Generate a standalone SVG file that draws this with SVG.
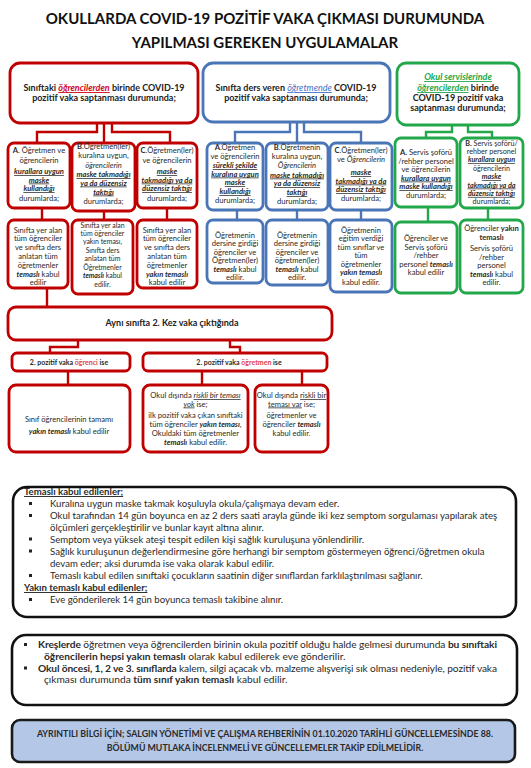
<svg xmlns="http://www.w3.org/2000/svg" width="531" height="768" viewBox="0 0 531 768">
<style>
text{font-family:Lato,"Liberation Sans",sans-serif;fill:#2a2a2a}
.title{font-size:15px;font-weight:bold;fill:#111}
.h{font-size:9px;font-weight:bold;fill:#222}
.s{font-size:7.6px}
.m{text-anchor:middle}
.b{font-weight:bold}
.i{font-style:italic}
.biu{font-weight:bold;font-style:italic;text-decoration:underline}
.bi{font-weight:bold;font-style:italic}
.rb{fill:#fff;stroke:#c00000;stroke-width:2.8}
.bb{fill:#fff;stroke:#4a76b8;stroke-width:2.8}
.gb{fill:#fff;stroke:#22a84a;stroke-width:2.8}
.kb{fill:#fff;stroke:#111;stroke-width:2.6}
.cr{fill:none;stroke:#c00000;stroke-width:2.4}
.cb{fill:none;stroke:#4a76b8;stroke-width:2.4}
.cg{fill:none;stroke:#22a84a;stroke-width:2.4}
.t9{font-size:9.6px}
.t10{font-size:10.2px}
.sm{font-size:6.9px}
.sg{font-size:7.2px}
</style>
<rect width="531" height="768" fill="#fff"/>
<g id="title">
<text class="title m" x="265" y="24">OKULLARDA COVID-19 POZİTİF VAKA ÇIKMASI DURUMUNDA</text>
<text class="title m" x="265" y="48">YAPILMASI GEREKEN UYGULAMALAR</text>
</g>
<g id="connectors">
<path class="cr" d="M97,123V132H37V143M104,123V143M112,123V132H170V143"/>
<path class="cr" d="M42,208V220M104,211V220M167,208V220M47,288V307"/>
<path class="cb" d="M290,122V132H235V143M297,122V143M304,122V132H361V143"/>
<path class="cb" d="M237,210V220M297,210V220M361,210V220"/>
<path class="cg" d="M452,125V132H426V138M468,125V132H492V138"/>
<path class="cg" d="M428,207V222M488,208V220"/>
<path class="cr" d="M78,340V347H50V353M230,340V347H240V353"/>
<path class="cr" d="M68,371V385M202,371V385M302,371V385"/>
</g>
<g id="h-red">
<rect class="rb" x="10" y="63" width="188" height="60" rx="10"/>
<text class="h m" x="104" y="91">Sınıftaki <tspan class="i" fill="#d0021b" text-decoration="underline">öğrencilerden</tspan> birinde COVID-19</text>
<text class="h m" x="104" y="101">pozitif vaka saptanması durumunda;</text>
</g>
<g id="h-blue">
<rect class="bb" x="203" y="63" width="187" height="59" rx="10"/>
<text class="h m" x="296" y="91">Sınıfta ders veren <tspan class="i" fill="#4472c4" font-weight="normal" text-decoration="underline">öğretmende</tspan> COVID-19</text>
<text class="h m" x="296" y="101">pozitif vaka saptanması durumunda;</text>
</g>
<g id="h-green">
<rect class="gb" x="397" y="63" width="122" height="62" rx="9"/>
<text class="h m" x="458" y="80"><tspan class="i" fill="#22a84a" text-decoration="underline">Okul servislerinde</tspan></text>
<text class="h m" x="458" y="91"><tspan class="i" fill="#22a84a" text-decoration="underline">öğrencilerden</tspan> birinde</text>
<text class="h m" x="458" y="101">COVID-19 pozitif vaka</text>
<text class="h m" x="458" y="111">saptanması durumunda;</text>
</g>
<g id="r-a">
<rect class="rb" x="8" y="143" width="62" height="65" rx="6"/>
<text class="s m" x="39" y="153"><tspan class="b">A</tspan>. Öğretmen ve</text>
<text class="s m" x="39" y="162.5">öğrencilerin</text>
<text class="s m biu" x="39" y="174">kurallara uygun</text>
<text class="s m biu" x="39" y="182.5">maske</text>
<text class="s m biu" x="39" y="191">kullandığı</text>
<text class="s m" x="39" y="200.5">durumlarda;</text>
</g>
<g id="r-b">
<rect class="rb" x="72" y="143" width="63" height="68" rx="6"/>
<text class="s m" x="103.5" y="148.5"><tspan class="b">B</tspan>.Öğretmen(ler)</text>
<text class="s m" x="103.5" y="157.5">kuralına uygun,</text>
<text class="s m i" x="103.5" y="167.5">öğrencilerin</text>
<text class="s m biu" x="103.5" y="177">maske takmadığı</text>
<text class="s m biu" x="103.5" y="185.5">ya da  düzensiz</text>
<text class="s m biu" x="103.5" y="194.5">taktığı</text>
<text class="s m" x="103.5" y="204">durumlarda;</text>
</g>
<g id="r-c">
<rect class="rb" x="137" y="143" width="60" height="65" rx="6"/>
<text class="s m" x="167" y="153"><tspan class="b">C</tspan>.Öğretmen(ler)</text>
<text class="s m" x="167" y="162.5">ve öğrencilerin</text>
<text class="s m biu" x="167" y="174">maske</text>
<text class="s m biu" x="167" y="182.5">takmadığı ya da</text>
<text class="s m biu" x="167" y="191">düzensiz taktığı</text>
<text class="s m" x="167" y="200.5">durumlarda;</text>
</g>
<g id="r-a2">
<rect class="rb" x="8" y="220" width="60" height="68" rx="6"/>
<text class="s m" x="38" y="232.5">Sınıfta yer alan</text>
<text class="s m" x="38" y="241">tüm öğrenciler</text>
<text class="s m" x="38" y="250">ve sınıfta ders</text>
<text class="s m" x="38" y="259">anlatan tüm</text>
<text class="s m" x="38" y="268">öğretmenler</text>
<text class="s m" x="38" y="276.5"><tspan class="bi">temaslı</tspan> kabul</text>
<text class="s m" x="38" y="285">edilir</text>
</g>
<g id="r-b2">
<rect class="rb" x="72" y="220" width="61" height="74" rx="6"/>
<text class="sm m" x="102.5" y="227.5">Sınıfta yer alan</text>
<text class="sm m" x="102.5" y="235.8">tüm öğrenciler</text>
<text class="sm m" x="102.5" y="244.1">yakın teması,</text>
<text class="sm m" x="102.5" y="253">Sınıfta ders</text>
<text class="sm m" x="102.5" y="261.3">anlatan tüm</text>
<text class="sm m" x="102.5" y="269.6">Öğretmenler</text>
<text class="sm m" x="102.5" y="277.9"><tspan class="bi">temaslı</tspan> kabul</text>
<text class="sm m" x="102.5" y="286.5">edilir.</text>
</g>
<g id="r-c2">
<rect class="rb" x="137" y="220" width="60" height="68" rx="6"/>
<text class="s m" x="167" y="232.5">Sınıfta yer alan</text>
<text class="s m" x="167" y="241">tüm öğrenciler</text>
<text class="s m" x="167" y="250">ve sınıfta ders</text>
<text class="s m" x="167" y="259">anlatan tüm</text>
<text class="s m" x="167" y="268">öğretmenler</text>
<text class="s m bi" x="167" y="276.5">yakın temaslı</text>
<text class="s m" x="167" y="285">kabul edilir</text>
</g>
<g id="b-a">
<rect class="bb" x="207" y="143" width="56" height="67" rx="6"/>
<text class="s m" x="235" y="150"><tspan class="b">A</tspan>.Öğretmen</text>
<text class="s m" x="235" y="159">ve öğrencilerin</text>
<text class="s m biu" x="235" y="168">sürekli şekilde</text>
<text class="s m biu" x="235" y="176.5">kuralına uygun</text>
<text class="s m biu" x="235" y="185">maske</text>
<text class="s m biu" x="235" y="194">kullandığı</text>
<text class="s m" x="235" y="203">durumlarda;</text>
</g>
<g id="b-b">
<rect class="bb" x="266" y="143" width="62" height="67" rx="6"/>
<text class="s m" x="297" y="150"><tspan class="b">B</tspan>.Öğretmenin</text>
<text class="s m" x="297" y="158.5">kuralına uygun,</text>
<text class="s m i" x="297" y="168">Öğrencilerin</text>
<text class="s m biu" x="297" y="177.5">maske takmadığı</text>
<text class="s m biu" x="297" y="186">ya da düzensiz</text>
<text class="s m biu" x="297" y="195">taktığı</text>
<text class="s m" x="297" y="204">durumlarda;</text>
</g>
<g id="b-c">
<rect class="bb" x="330" y="143" width="62" height="67" rx="6"/>
<text class="s m" x="361" y="153"><tspan class="b">C</tspan>.Öğretmen(ler)</text>
<text class="s m" x="361" y="162">ve <tspan class="i">Öğrencilerin</tspan></text>
<text class="s m biu" x="361" y="175">maske</text>
<text class="s m biu" x="361" y="183.5">takmadığı ya da</text>
<text class="s m biu" x="361" y="192">düzensiz taktığı</text>
<text class="s m" x="361" y="201">durumlarda;</text>
</g>
<g id="b-a2">
<rect class="bb" x="207" y="220" width="56" height="63" rx="6"/>
<text class="s m" x="235" y="237.5">Öğretmenin</text>
<text class="s m" x="235" y="246">dersine girdiği</text>
<text class="s m" x="235" y="254.5">öğrenciler ve</text>
<text class="s m" x="235" y="263">Öğretmen(ler)</text>
<text class="s m" x="235" y="271.5"><tspan class="bi">temaslı</tspan> kabul</text>
<text class="s m" x="235" y="280">edilir.</text>
</g>
<g id="b-b2">
<rect class="bb" x="266" y="220" width="62" height="65" rx="6"/>
<text class="s m" x="297" y="237.5">Öğretmenin</text>
<text class="s m" x="297" y="246">dersine girdiği</text>
<text class="s m" x="297" y="254.5">öğrenciler ve</text>
<text class="s m" x="297" y="263">öğretmen(ler)</text>
<text class="s m" x="297" y="271.5"><tspan class="bi">temaslı</tspan> kabul</text>
<text class="s m" x="297" y="280">edilir.</text>
</g>
<g id="b-c2">
<rect class="bb" x="330" y="220" width="62" height="72" rx="6"/>
<text class="s m" x="361" y="232.5">Öğretmenin</text>
<text class="s m" x="361" y="241">eğitim verdiği</text>
<text class="s m" x="361" y="249.5">tüm sınıflar ve</text>
<text class="s m" x="361" y="258">tüm</text>
<text class="s m" x="361" y="266.5">öğretmenler</text>
<text class="s m bi" x="361" y="275">yakın temaslı</text>
<text class="s m" x="361" y="285">kabul edilir.</text>
</g>
<g id="g-a">
<rect class="gb" x="395" y="138" width="62" height="69" rx="6"/>
<text class="s m" x="426" y="155"><tspan class="b">A.</tspan> Servis şoförü</text>
<text class="s m" x="426" y="163.5">/rehber personel</text>
<text class="s m" x="426" y="172">ve öğrencilerin</text>
<text class="s m biu" x="426" y="180.5">kurallara uygun</text>
<text class="s m biu" x="426" y="189">maske kullandığı</text>
<text class="s m" x="426" y="198">durumlarda;</text>
</g>
<g id="g-b">
<rect class="gb" x="460" y="138" width="63" height="70" rx="6"/>
<text class="sg m" x="491.5" y="145.5"><tspan class="b">B.</tspan> Servis şoförü/</text>
<text class="sg m" x="491.5" y="153.9">rehber personel</text>
<text class="sg m biu" x="491.5" y="162.3">kurallara uygun</text>
<text class="sg m" x="491.5" y="170.7">öğrencilerin</text>
<text class="sg m biu" x="491.5" y="179.1">maske</text>
<text class="sg m biu" x="491.5" y="187.5">takmadığı ya da</text>
<text class="sg m biu" x="491.5" y="195.9">düzensiz taktığı</text>
<text class="sg m" x="491.5" y="204.4">durumlarda;</text>
</g>
<g id="g-a2">
<rect class="gb" x="395" y="222" width="62" height="71" rx="6"/>
<text class="s m" x="426" y="241">Öğrenciler  ve</text>
<text class="s m" x="426" y="249.5">Servis şoförü</text>
<text class="s m" x="426" y="258">/rehber</text>
<text class="s m" x="426" y="266.5">personel <tspan class="bi">temaslı</tspan></text>
<text class="s m" x="426" y="275">kabul edilir</text>
</g>
<g id="g-b2">
<rect class="gb" x="460" y="220" width="63" height="73" rx="6"/>
<text class="s m" x="491.5" y="231">Öğrenciler <tspan class="b">yakın</tspan></text>
<text class="s m b" x="491.5" y="239.5">temaslı</text>
<text class="s m" x="491.5" y="251">Servis şoförü</text>
<text class="s m" x="491.5" y="259.5">/rehber</text>
<text class="s m" x="491.5" y="268">personel</text>
<text class="s m" x="491.5" y="276.5"><tspan class="bi">temaslı</tspan> kabul</text>
<text class="s m" x="491.5" y="285">edilir.</text>
</g>
<g id="second">
<rect class="rb" x="8" y="307" width="324" height="33" rx="8"/>
<text class="h m" x="172" y="326" font-size="10">Aynı sınıfta  2. Kez vaka çıktığında</text>
</g>
<g id="p-ogrenci">
<rect class="rb" x="12" y="353" width="118" height="18" rx="5"/>
<text class="m b" x="69" y="364.5" font-size="7">2. pozitif vaka <tspan fill="#e0404c">öğrenci</tspan> ise</text>
</g>
<g id="p-ogretmen">
<rect class="rb" x="143" y="353" width="184" height="18" rx="5"/>
<text class="m b" x="239" y="364.5" font-size="7">2. pozitif vaka <tspan fill="#e0404c">öğretmen</tspan> ise</text>
</g>
<g id="o-1">
<rect class="rb" x="9" y="385" width="121" height="67" rx="7"/>
<text class="s m" x="69" y="422">Sınıf öğrencilerinin tamamı</text>
<text class="s m" x="69" y="434"><tspan class="bi">yakın temaslı</tspan> kabul edilir</text>
</g>
<g id="o-2">
<rect class="rb" x="143" y="385" width="105" height="67" rx="7"/>
<text class="s m" x="195.5" y="398">Okul dışında <tspan class="i" text-decoration="underline">riskli bir teması</tspan></text>
<text class="s m" x="195.5" y="406.5"><tspan class="i" text-decoration="underline">yok</tspan> ise;</text>
<text class="s m" x="195.5" y="418">ilk pozitif vaka çıkan sınıftaki</text>
<text class="s m" x="195.5" y="427">tüm öğrenciler <tspan class="bi">yakın teması</tspan>,</text>
<text class="s m" x="195.5" y="436">Okuldaki tüm öğretmenler</text>
<text class="s m" x="195.5" y="444.5"><tspan class="bi">temaslı</tspan> kabul edilir.</text>
</g>
<g id="o-3">
<rect class="rb" x="255" y="385" width="73" height="67" rx="7"/>
<text class="s m" x="291.5" y="398">Okul dışında <tspan text-decoration="underline">riskli bir</tspan></text>
<text class="s m" x="291.5" y="406.5"><tspan text-decoration="underline">teması var</tspan> ise;</text>
<text class="s m" x="291.5" y="418">öğretmenler ve</text>
<text class="s m" x="291.5" y="427">öğrenciler <tspan class="bi">temaslı</tspan></text>
<text class="s m" x="291.5" y="436">kabul edilir.</text>
</g>
<g id="box-temasli">
<rect class="kb" x="13" y="487" width="503" height="130" rx="14"/>
<g class="t9">
<text x="24" y="495" class="b" text-decoration="underline">Temaslı kabul edilenler;</text>
<text x="50" y="507">Kuralına uygun maske takmak koşuluyla okula/çalışmaya devam eder.</text>
<text x="50" y="519">Okul tarafından 14 gün boyunca en az 2 ders saati arayla günde iki kez semptom sorgulaması yapılarak ateş</text>
<text x="50" y="530.5">ölçümleri gerçekleştirilir  ve bunlar kayıt altına alınır.</text>
<text x="50" y="542.5">Semptom veya yüksek ateşi tespit edilen kişi sağlık kuruluşuna  yönlendirilir.</text>
<text x="50" y="554.5">Sağlık kuruluşunun  değerlendirmesine  göre herhangi bir semptom göstermeyen öğrenci/öğretmen okula</text>
<text x="50" y="566.5">devam eder; aksi durumda ise vaka olarak kabul edilir.</text>
<text x="50" y="579">Temaslı kabul edilen sınıftaki çocukların saatinin diğer sınıflardan farklılaştırılması sağlanır.</text>
<text x="24" y="591" class="b" text-decoration="underline">Yakın temaslı kabul edilenler;</text>
<text x="50" y="603">Eve gönderilerek 14 gün boyunca  temaslı takibine alınır.</text>
</g>
<g fill="#222">
<rect x="29" y="502" width="3" height="3"/>
<rect x="29" y="514" width="3" height="3"/>
<rect x="29" y="537.5" width="3" height="3"/>
<rect x="29" y="549.5" width="3" height="3"/>
<rect x="29" y="574" width="3" height="3"/>
<rect x="29" y="598" width="3" height="3"/>
</g>
</g>
<g id="box-kres">
<rect class="kb" x="12" y="635" width="505" height="70" rx="14"/>
<g class="t10">
<text x="38" y="648" textLength="459" lengthAdjust="spacing"><tspan class="b">Kreşlerde</tspan> öğretmen veya öğrencilerden birinin okula pozitif olduğu halde gelmesi durumunda <tspan class="b">bu sınıftaki</tspan></text>
<text x="44" y="659.5"><tspan class="b">öğrencilerin hepsi yakın temaslı</tspan> olarak kabul edilerek eve gönderilir.</text>
<text x="38" y="671.5" textLength="459" lengthAdjust="spacing"><tspan class="b">Okul öncesi, 1, 2 ve 3. sınıflarda</tspan> kalem, silgi açacak vb. malzeme alışverişi sık olması nedeniyle, pozitif vaka</text>
<text x="44" y="683">çıkması durumunda  <tspan class="b">tüm sınıf yakın temaslı</tspan> kabul edilir.</text>
</g>
<rect x="24" y="643" width="3" height="3" fill="#222"/>
<rect x="24" y="666.5" width="3" height="3" fill="#222"/>
</g>
<g id="box-info">
<rect x="12" y="720" width="503" height="42" rx="8" fill="#b4c7e7" stroke="#1a1a1a" stroke-width="2.6"/>
<text class="m b" x="265" y="737" font-size="8.8" fill="#222">AYRINTILI BİLGİ İÇİN; SALGIN YÖNETİMİ VE ÇALIŞMA REHBERİNİN 01.10.2020 TARİHLİ GÜNCELLEMESİNDE 88.</text>
<text class="m b" x="265" y="751" font-size="8.8" fill="#222">BÖLÜMÜ MUTLAKA İNCELENMELİ VE GÜNCELLEMELER TAKİP EDİLMELİDİR.</text>
</g>
</svg>
